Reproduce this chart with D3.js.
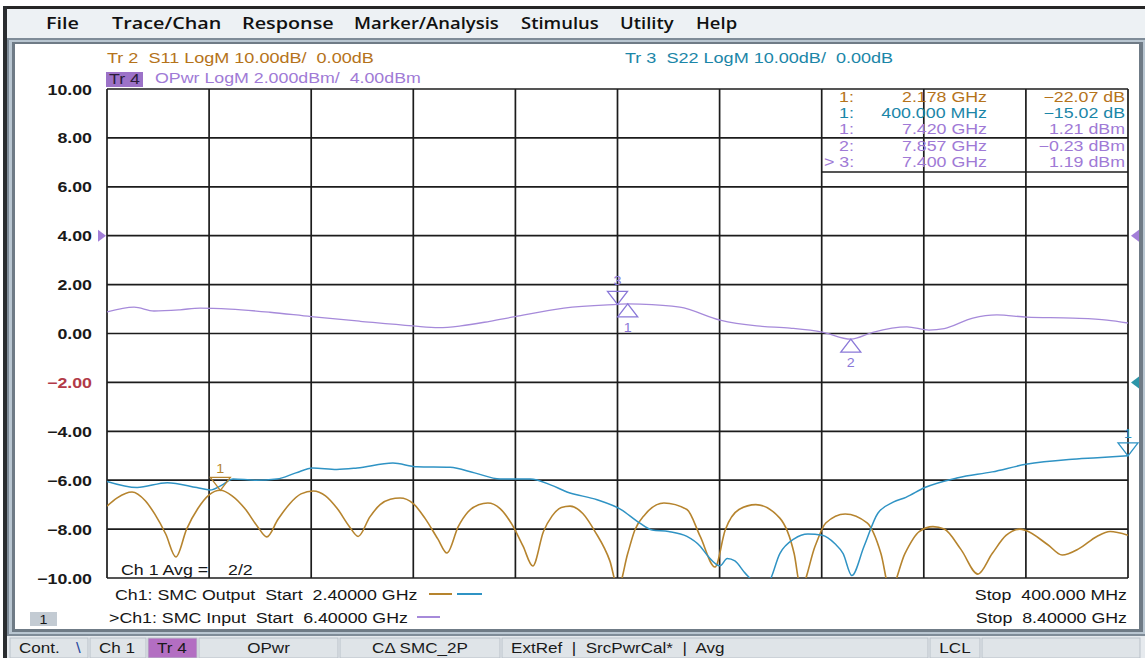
<!DOCTYPE html>
<html>
<head>
<meta charset="utf-8">
<script src="https://cdn.jsdelivr.net/npm/d3@7"></script>
<style>
  html, body { margin: 0; padding: 0; background: #fff; overflow: hidden; }
  text { white-space: pre; }
</style>
</head>
<body>
<svg id="screen" width="1145" height="658"></svg>
<script>
// ---------------- data ----------------
const menuItems = ["File", "Trace/Chan", "Response", "Marker/Analysis", "Stimulus", "Utility", "Help"];

const yTicks = [10, 8, 6, 4, 2, 0, -2, -4, -6, -8, -10];          // dBm, OPwr 2 dB/div
const xGridGHz = [6.4, 6.6, 6.8, 7.0, 7.2, 7.4, 7.6, 7.8, 8.0, 8.2, 8.4]; // input stimulus

// Tr 2: S11 LogM (dB) vs input frequency (GHz)
const s11Freq = [6.400, 6.420, 6.449, 6.475, 6.494, 6.515, 6.535, 6.556, 6.578, 6.600,
                 6.622, 6.645, 6.670, 6.695, 6.713, 6.735, 6.758, 6.780, 6.804, 6.828,
                 6.851, 6.875, 6.892, 6.915, 6.935, 6.955, 6.974, 7.000, 7.023, 7.048,
                 7.066, 7.088, 7.107, 7.128, 7.146, 7.170, 7.193, 7.215, 7.234, 7.255,
                 7.272, 7.290, 7.307, 7.332, 7.356, 7.385, 7.401, 7.420, 7.434, 7.454,
                 7.491, 7.536, 7.562, 7.591, 7.611, 7.638, 7.671, 7.718, 7.746, 7.759,
                 7.787, 7.808, 7.846, 7.889, 7.916, 7.934, 7.963, 7.991, 8.018, 8.040,
                 8.073, 8.106, 8.134, 8.161, 8.188, 8.200, 8.243, 8.271, 8.304, 8.339,
                 8.365, 8.400];
const s11Db   = [-25.3, -23.6, -22.4, -24.2, -27.0, -31.0, -35.7, -30.0, -25.8, -23.0,
                 -22.07, -23.2, -25.8, -29.5, -31.6, -28.0, -24.8, -22.8, -22.2, -23.2,
                 -25.8, -29.5, -31.5, -27.5, -25.0, -23.9, -23.65, -24.8, -27.8, -32.0,
                 -34.9, -29.5, -26.5, -25.0, -24.65, -25.8, -29.0, -33.5, -37.55, -30.5,
                 -27.3, -25.6, -25.3, -26.8, -30.5, -36.5, -42.0, -35.0, -30.2, -27.0,
                 -24.65, -26.0, -31.5, -37.75, -30.2, -26.0, -25.0, -27.75, -35.0, -42.0,
                 -33.5, -28.75, -26.9, -28.75, -35.0, -42.5, -35.0, -30.5, -29.5, -30.0,
                 -34.2, -39.2, -35.0, -31.3, -30.0, -30.3, -33.2, -35.3, -34.0, -31.5,
                 -30.5, -31.25];

// Tr 3: S22 LogM (dB)
const s22Freq = [6.400, 6.459, 6.518, 6.576, 6.602, 6.625, 6.647, 6.690, 6.733, 6.770,
                 6.803, 6.850, 6.890, 6.960, 7.007, 7.072, 7.120, 7.170, 7.229, 7.270,
                 7.301, 7.360, 7.407, 7.440, 7.468, 7.500, 7.536, 7.562, 7.577, 7.601,
                 7.615, 7.630, 7.650, 7.679, 7.695, 7.718, 7.746, 7.773, 7.801, 7.826,
                 7.842, 7.859, 7.883, 7.910, 7.940, 7.965, 8.002, 8.067, 8.134, 8.200,
                 8.284, 8.340, 8.400];
const s22Db   = [-20.25, -21.5, -20.5, -21.5, -22.0, -21.0, -19.75, -20.0, -19.75, -18.5,
                 -17.5, -17.8, -17.5, -16.5, -17.25, -17.35, -18.5, -19.75, -19.75, -21.0,
                 -22.4, -24.0, -26.0, -28.5, -30.2, -30.5, -31.5, -33.5, -35.5, -37.5,
                 -36.0, -36.5, -39.0, -41.5, -41.0, -35.0, -32.0, -31.0, -31.25, -33.0,
                 -35.0, -39.5, -33.5, -26.75, -24.5, -23.5, -21.5, -19.5, -18.3, -16.75,
                 -15.75, -15.4, -15.02];

// Tr 4: OPwr LogM (dBm)
const opwrFreq = [6.400, 6.453, 6.492, 6.543, 6.582, 6.641, 6.719, 6.800, 6.896, 6.999,
                  7.050, 7.093, 7.150, 7.199, 7.295, 7.400, 7.420, 7.444, 7.522, 7.601,
                  7.673, 7.738, 7.801, 7.857, 7.900, 7.967, 8.010, 8.040, 8.096, 8.143,
                  8.202, 8.292, 8.359, 8.400];
const opwrDbm = [0.88, 1.08, 0.92, 0.97, 1.04, 1.00, 0.87, 0.69, 0.50, 0.31,
                 0.24, 0.31, 0.50, 0.69, 1.04, 1.19, 1.21, 1.20, 1.08, 0.55,
                 0.31, 0.22, 0.06, -0.23, 0.05, 0.27, 0.14, 0.20, 0.63, 0.76,
                 0.67, 0.63, 0.55, 0.43];

// marker readouts: trace, id, stimulus (GHz on input axis), readout text, value
const markerIds     = ["1:", "1:", "1:", "2:", "> 3:"];
const markerTrace   = ["s11", "s22", "opwr", "opwr", "opwr"];
const markerStimTxt = ["2.178 GHz", "400.000 MHz", "7.420 GHz", "7.857 GHz", "7.400 GHz"];
const markerInput   = [6.622, 8.400, 7.420, 7.857, 7.400];
const markerValue   = [-22.07, -15.02, 1.21, -0.23, 1.19];
const markerUnit    = ["dB", "dB", "dBm", "dBm", "dBm"];

const statusItems = ["Cont.", "Ch 1", "Tr 4", "OPwr", "C\u0394 SMC_2P", "ExtRef  |  SrcPwrCal*  |  Avg", "LCL", ""];

// ---------------- layout ----------------
const W = 1145, H = 658;
const plot = { left: 107, right: 1128, top: 89, bottom: 578 };
const SX = 1.27;           // horizontal stretch of the instrument screen fonts
const FONT = "'Liberation Sans', Arial, sans-serif";
const MENU_FONT = "'Open Sans', 'Liberation Sans', sans-serif";
const col = {
  s11: "#b6842e", s11Text: "#b5731a",
  s22: "#2f93c4", s22Text: "#1b86a8",
  opwr: "#a68ada", opwrText: "#a07ad6",
  grid: "#1c1c1c"
};

const svg = d3.select("#screen");

function label(parent, x, y, s, o = {}) {
  return parent.append("text")
    .attr("transform", `translate(${x},${y}) scale(${o.sx ?? SX},1)`)
    .attr("text-anchor", o.anchor || "start")
    .style("font-family", o.font || FONT)
    .style("font-size", (o.size || 14) + "px")
    .style("font-weight", o.weight || 400)
    .attr("fill", o.fill || "#161616")
    .text(s);
}

// ---------------- window chrome ----------------
svg.append("rect").attr("width", W).attr("height", H).attr("fill", "#ffffff");
svg.append("rect").attr("x", 3).attr("y", 6).attr("width", W - 3).attr("height", 3).attr("fill", "#262626");
svg.append("rect").attr("x", 3).attr("y", 6).attr("width", 4).attr("height", H - 6).attr("fill", "#2a2d30");
svg.append("rect").attr("x", 7).attr("y", 9).attr("width", W - 7).attr("height", 29).attr("fill", "#edf1f4");

const menuLeft = [46, 112, 242, 354, 521, 620, 696];
const menuSx   = [1.2, 1.2, 1.2, 1.12, 1.12, 1.12, 1.12];
menuItems.forEach((m, i) => label(svg, menuLeft[i], 29, m, { font: MENU_FONT, size: 16.5, weight: 600, sx: menuSx[i], fill: "#111" }));

// instrument window frame
svg.append("rect").attr("x", 7).attr("y", 38).attr("width", W - 7).attr("height", 598).attr("fill", "#7f8c98");
svg.append("rect").attr("x", 9).attr("y", 40).attr("width", W - 9).attr("height", 594).attr("fill", "#b9c6d1");
svg.append("rect").attr("x", 12).attr("y", 42).attr("width", W - 14).attr("height", 590).attr("fill", "#6f7b86");
svg.append("rect").attr("x", 15).attr("y", 44).attr("width", 1124).attr("height", 585).attr("fill", "#ffffff");

// ---------------- scales ----------------
const x = d3.scaleLinear().domain([6.4, 8.4]).range([plot.left, plot.right]);
const yP = d3.scaleLinear().domain([-10, 10]).range([plot.bottom, plot.top]);   // OPwr, 2 dBm/div, ref 4 dBm
const yS = d3.scaleLinear().domain([-40, 60]).range([plot.bottom, plot.top]);   // S11/S22, 10 dB/div, ref 0 dB at -2 line

// ---------------- trace headers ----------------
label(svg, 107, 63, "Tr 2  S11 LogM 10.00dB/  0.00dB", { fill: col.s11Text, size: 14, sx: 1.29 });
label(svg, 625, 63, "Tr 3  S22 LogM 10.00dB/  0.00dB", { fill: col.s22Text, size: 14, sx: 1.29 });
svg.append("rect").attr("x", 106).attr("y", 72).attr("width", 37).attr("height", 15).attr("fill", "#9c72c8");
label(svg, 109, 84, "Tr 4", { fill: "#2b1d3a", size: 14 });
label(svg, 155, 83, "OPwr LogM 2.000dBm/  4.00dBm", { fill: col.opwrText, size: 14 });

// ---------------- grid ----------------
const g = svg.append("g");
g.selectAll("line.v").data(xGridGHz).join("line")
  .attr("x1", d => x(d)).attr("x2", d => x(d))
  .attr("y1", plot.top).attr("y2", plot.bottom)
  .attr("stroke", col.grid).attr("stroke-width", 1.7);
g.selectAll("line.h").data(yTicks).join("line")
  .attr("x1", plot.left).attr("x2", plot.right)
  .attr("y1", d => yP(d)).attr("y2", d => yP(d))
  .attr("stroke", col.grid).attr("stroke-width", 1.7);

// y axis labels
const yAxis = d3.axisLeft(yP).tickValues(yTicks).tickSize(0).tickPadding(12).tickFormat(d3.format(".2f"));
const ya = svg.append("g").attr("transform", `translate(${plot.left},0)`).call(yAxis);
ya.select(".domain").remove();
ya.selectAll("text")
  .attr("x", null).attr("dy", "0.36em")
  .attr("transform", `translate(-15,0) scale(${SX},1)`)
  .style("font-family", FONT).style("font-size", "14px").style("font-weight", 700)
  .attr("fill", d => d === -2 ? "#b23a48" : "#1a1a1a");

// ---------------- marker readout table ----------------
svg.append("line").attr("x1", x(7.8)).attr("x2", plot.right).attr("y1", 172).attr("y2", 172)
  .attr("stroke", col.grid).attr("stroke-width", 1.7);
const rowY = [102, 118, 134, 151, 167];
const rowColor = { s11: col.s11Text, s22: col.s22Text, opwr: col.opwrText };
markerIds.forEach((id, i) => {
  const c = rowColor[markerTrace[i]];
  label(svg, id.startsWith(">") ? 824 : 839, rowY[i], id, { fill: c, size: 14 });
  label(svg, 987, rowY[i], markerStimTxt[i], { fill: c, size: 14, anchor: "end" });
  label(svg, 1125, rowY[i], d3.format(".2f")(markerValue[i]) + " " + markerUnit[i], { fill: c, size: 14, anchor: "end" });
});

// ---------------- traces ----------------
svg.append("clipPath").attr("id", "plotClip").append("rect")
  .attr("x", plot.left).attr("y", plot.top)
  .attr("width", plot.right - plot.left).attr("height", plot.bottom - plot.top);

const zip = (a, b) => a.map((v, i) => [v, b[i]]);
const lineS = d3.line().x(d => x(d[0])).y(d => yS(d[1])).curve(d3.curveMonotoneX);
const lineP = d3.line().x(d => x(d[0])).y(d => yP(d[1])).curve(d3.curveMonotoneX);
const traces = svg.append("g").attr("clip-path", "url(#plotClip)");
traces.append("path").attr("d", lineS(zip(s11Freq, s11Db)))
  .attr("fill", "none").attr("stroke", col.s11).attr("stroke-width", 1.6);
traces.append("path").attr("d", lineS(zip(s22Freq, s22Db)))
  .attr("fill", "none").attr("stroke", col.s22).attr("stroke-width", 1.5);
traces.append("path").attr("d", lineP(zip(opwrFreq, opwrDbm)))
  .attr("fill", "none").attr("stroke", col.opwr).attr("stroke-width", 1.3);

// ---------------- markers on traces ----------------
const traceScale = { s11: yS, s22: yS, opwr: yP };
const traceColor = { s11: col.s11, s22: col.s22, opwr: "#8a78d8" };
function marker(i, up, num, numDy) {
  const t = markerTrace[i];
  const px = x(markerInput[i]), py = traceScale[t](markerValue[i]);
  const w = 10, h = 13;
  const pts = up
    ? [[px, py], [px - w, py + h], [px + w, py + h]]
    : [[px, py], [px - w, py - h], [px + w, py - h]];
  svg.append("polygon").attr("points", pts.map(p => p.join(",")).join(" "))
    .attr("fill", "none").attr("stroke", traceColor[t]).attr("stroke-width", 1.3);
  label(svg, px, py + numDy, num, { fill: traceColor[t], size: 13, anchor: "middle", sx: 1.1 });
}
marker(0, false, "1", -17);   // S11 marker 1
marker(1, false, "1", -18);   // S22 marker 1
marker(4, false, "3", -19);   // OPwr marker 3 (active)
marker(2, true, "1", 28);     // OPwr marker 1
marker(3, true, "2", 28);     // OPwr marker 2

// reference level pointers
const refTri = (px, py, dir, c) => svg.append("polygon")
  .attr("points", dir > 0
    ? `${px - 8},${py - 6} ${px},${py} ${px - 8},${py + 6}`
    : `${px + 8},${py - 6} ${px},${py} ${px + 8},${py + 6}`)
  .attr("fill", c);
refTri(plot.left - 1, yP(4), 1, "#a27ed8");
refTri(plot.right + 3, yP(4), -1, "#a27ed8");
refTri(plot.right + 3, yS(0), -1, "#2c95a8");

// ---------------- channel annotations ----------------
label(svg, 121, 575, "Ch 1 Avg =", { size: 14 });
label(svg, 228, 575, "2/2", { size: 14 });

label(svg, 115, 600, "Ch1: SMC Output  Start  2.40000 GHz", { size: 14 });
svg.append("line").attr("x1", 429).attr("x2", 452).attr("y1", 594).attr("y2", 594).attr("stroke", col.s11).attr("stroke-width", 2);
svg.append("line").attr("x1", 457).attr("x2", 482).attr("y1", 594).attr("y2", 594).attr("stroke", col.s22).attr("stroke-width", 2);
label(svg, 109, 623, ">Ch1: SMC Input  Start  6.40000 GHz", { size: 14 });
svg.append("line").attr("x1", 417).attr("x2", 440).attr("y1", 617).attr("y2", 617).attr("stroke", col.opwr).attr("stroke-width", 2);

label(svg, 1127, 600, "Stop  400.000 MHz", { size: 14, anchor: "end" });
label(svg, 1127, 623, "Stop  8.40000 GHz", { size: 14, anchor: "end" });

svg.append("rect").attr("x", 30).attr("y", 612).attr("width", 27).attr("height", 14).attr("fill", "#c3cbd3");
label(svg, 43.5, 624, "1", { size: 13, anchor: "middle", sx: 1.1 });

// ---------------- status bar ----------------
svg.append("rect").attr("x", 7).attr("y", 636).attr("width", W - 7).attr("height", 22).attr("fill", "#e6eaee");
const cellX = [10, 90, 148, 199, 340, 502, 930, 982, 1142];
const sb = svg.append("g");
statusItems.forEach((s, i) => {
  const x0 = cellX[i], x1 = cellX[i + 1] - 2;
  sb.append("rect").attr("x", x0).attr("y", 638).attr("width", x1 - x0).attr("height", 20)
    .attr("fill", i === 2 ? "#b36ec2" : "#dfe4e8").attr("stroke", "#b9c1c9").attr("stroke-width", 1);
  if (!s) return;
  const centred = i === 3 || i === 4 || i === 6;
  label(sb, centred ? (x0 + x1) / 2 : x0 + 9, 653, s, { size: 14, anchor: centred ? "middle" : "start", sx: 1.22, fill: "#1a1a1a" });
});
label(sb, 76, 653, "\\", { size: 14, sx: 1.2, fill: "#2a4aa0" });
</script>
</body>
</html>
